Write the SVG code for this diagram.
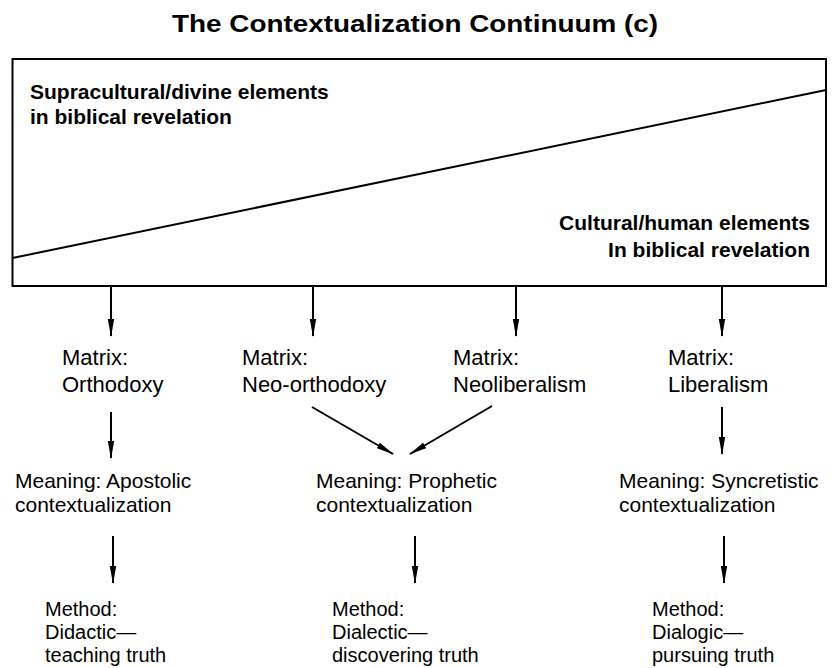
<svg xmlns="http://www.w3.org/2000/svg" width="833" height="668" viewBox="0 0 833 668">
<style>
.t{font-family:"Liberation Sans",Arial,sans-serif;fill:#000}
.title{font-size:24px;font-weight:bold}
.bx{font-size:21px;font-weight:bold}
.lb{font-size:22px}
.mn{font-size:21px}
.md{font-size:20px}
.ln{stroke:#000;stroke-width:2;fill:none}
</style>
<defs>
<marker id="ah" markerUnits="userSpaceOnUse" markerWidth="18" markerHeight="8" refX="17" refY="4" orient="auto">
<path d="M0,0.8 L18,4 L0,7.2 z" fill="#000"/>
</marker>
</defs>
<rect width="833" height="668" fill="#fff"/>
<text class="t title" x="172" y="32" textLength="486" lengthAdjust="spacingAndGlyphs">The Contextualization Continuum (c)</text>
<g id="continuum">
<rect x="12.5" y="59" width="813.5" height="227" class="ln"/>
<line x1="12.5" y1="258" x2="826" y2="90" class="ln"/>
<text class="t bx" x="30" y="99">Supracultural/divine elements</text>
<text class="t bx" x="30" y="124">in biblical revelation</text>
<text class="t bx" x="810" y="230" text-anchor="end">Cultural/human elements</text>
<text class="t bx" x="810" y="257" text-anchor="end">In biblical revelation</text>
</g>
<g id="matrix-orthodoxy"><text class="t lb" x="62" y="365">Matrix:</text><text class="t lb" x="62" y="392">Orthodoxy</text></g>
<g id="matrix-neoorthodoxy"><text class="t lb" x="242" y="365">Matrix:</text><text class="t lb" x="242" y="392">Neo-orthodoxy</text></g>
<g id="matrix-neoliberalism"><text class="t lb" x="453" y="365">Matrix:</text><text class="t lb" x="453" y="392">Neoliberalism</text></g>
<g id="matrix-liberalism"><text class="t lb" x="668" y="365">Matrix:</text><text class="t lb" x="668" y="392">Liberalism</text></g>
<g id="meaning-apostolic"><text class="t mn" x="15" y="488">Meaning: Apostolic</text><text class="t mn" x="15" y="512">contextualization</text></g>
<g id="meaning-prophetic"><text class="t mn" x="316" y="488">Meaning: Prophetic</text><text class="t mn" x="316" y="512">contextualization</text></g>
<g id="meaning-syncretistic"><text class="t mn" x="619" y="488">Meaning: Syncretistic</text><text class="t mn" x="619" y="512">contextualization</text></g>
<g id="method-didactic"><text class="t md" x="45" y="616">Method:</text><text class="t md" x="45" y="639">Didactic—</text><text class="t md" x="45" y="662">teaching truth</text></g>
<g id="method-dialectic"><text class="t md" x="332" y="616">Method:</text><text class="t md" x="332" y="639">Dialectic—</text><text class="t md" x="332" y="662">discovering truth</text></g>
<g id="method-dialogic"><text class="t md" x="652" y="616">Method:</text><text class="t md" x="652" y="639">Dialogic—</text><text class="t md" x="652" y="662">pursuing truth</text></g>
<g id="connectors">
<line x1="111" y1="287" x2="111" y2="336" class="ln" marker-end="url(#ah)"/>
<line x1="313" y1="287" x2="313" y2="336" class="ln" marker-end="url(#ah)"/>
<line x1="516" y1="287" x2="516" y2="336" class="ln" marker-end="url(#ah)"/>
<line x1="722" y1="287" x2="722" y2="336" class="ln" marker-end="url(#ah)"/>
<line x1="111" y1="412" x2="111" y2="458" class="ln" marker-end="url(#ah)"/>
<line x1="312" y1="407" x2="393" y2="454" class="ln" marker-end="url(#ah)"/>
<line x1="492" y1="406" x2="410" y2="454" class="ln" marker-end="url(#ah)"/>
<line x1="722" y1="407" x2="722" y2="454" class="ln" marker-end="url(#ah)"/>
<line x1="113" y1="536" x2="113" y2="583" class="ln" marker-end="url(#ah)"/>
<line x1="415" y1="536" x2="415" y2="583" class="ln" marker-end="url(#ah)"/>
<line x1="724" y1="536" x2="724" y2="583" class="ln" marker-end="url(#ah)"/>
</g>
</svg>
